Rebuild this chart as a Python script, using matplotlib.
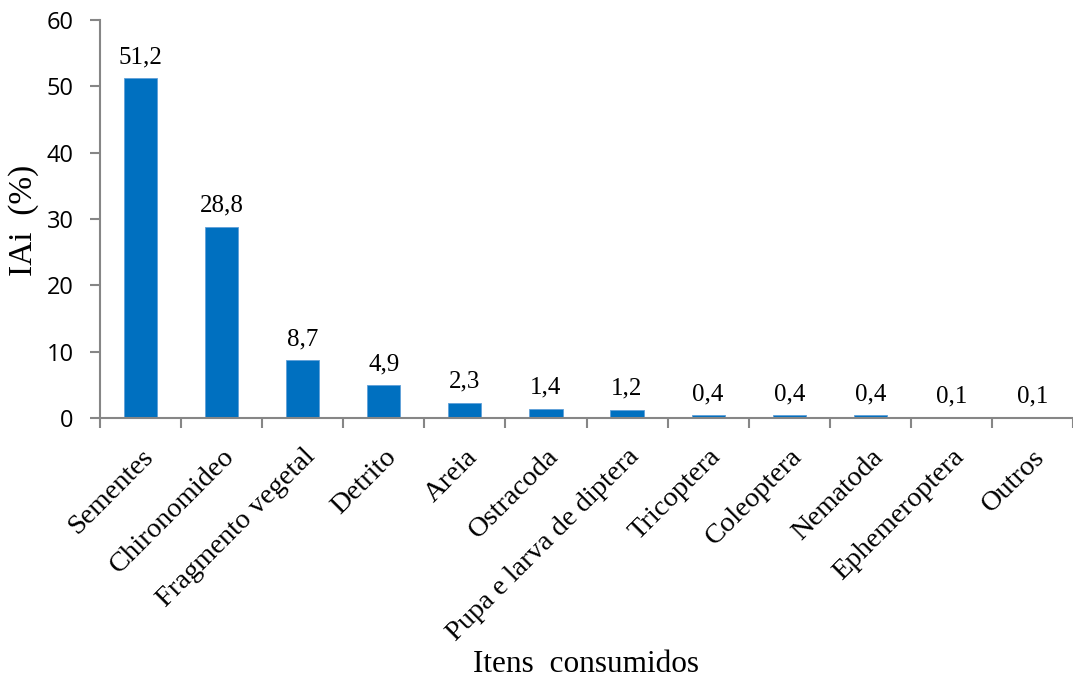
import matplotlib
matplotlib.use("Agg")
from matplotlib import pyplot as plt

itens = ["Sementes", "Chironomideo", "Fragmento vegetal", "Detrito", "Areia",
         "Ostracoda", "Pupa e larva de diptera", "Tricoptera", "Coleoptera",
         "Nematoda", "Ephemeroptera", "Outros"]
iai = [51.2, 28.8, 8.7, 4.9, 2.3, 1.4, 1.2, 0.4, 0.4, 0.4, 0.1, 0.1]
yticks = [0, 10, 20, 30, 40, 50, 60]

serif = "Liberation Serif"
sans = "Open Sans"
cinza = "#868686"

fig = plt.figure(figsize=(10.73, 6.82), dpi=100)
ax = fig.add_axes([100 / 1073, 1 - 418 / 682, 973 / 1073, 398 / 682])

x = list(range(len(itens)))
ax.bar(x, iai, width=0.41, color="#0070C0", edgecolor="#5fa0d8", linewidth=0.6)

for xi, v in zip(x, iai):
    ax.annotate(f"{v:.1f}".replace(".", ","), (xi, v), xytext=(0, 11),
                textcoords="offset points", ha="center", va="baseline",
                fontsize=18, family=serif)

ax.set_xlim(-0.5, len(itens) - 0.5)
ax.set_ylim(0, 60)
ax.set_yticks(yticks)
ax.set_yticklabels([str(t) for t in yticks], fontsize=17, family=sans)

# ticks do eixo x nas divisas entre categorias
ax.set_xticks([i - 0.5 for i in range(len(itens) + 1)], minor=False)
ax.set_xticklabels([])
ax.set_xticks(x, minor=True)
ax.set_xticklabels(itens, minor=True, rotation=45, ha="right", va="top",
                   rotation_mode="anchor", fontsize=20.5, family=serif)
ax.tick_params(axis="x", which="minor", length=0, pad=19)
ax.tick_params(axis="x", which="major", length=7, width=1.5, color=cinza, direction="out")
ax.tick_params(axis="y", length=7, width=1.5, color=cinza, direction="out", pad=12)

for lado in ["top", "right"]:
    ax.spines[lado].set_visible(False)
for lado in ["left", "bottom"]:
    ax.spines[lado].set_color(cinza)
    ax.spines[lado].set_linewidth(1.5)

fig.text(24 / 1073, 1 - 220 / 682, "IAi  (%)", fontsize=24, family=serif,
         rotation=90, ha="center", va="center")
fig.text(586 / 1073, 1 - 664 / 682, "Itens  consumidos", fontsize=22.5,
         family=serif, ha="center", va="center")

fig.savefig("out.png", dpi=100)
